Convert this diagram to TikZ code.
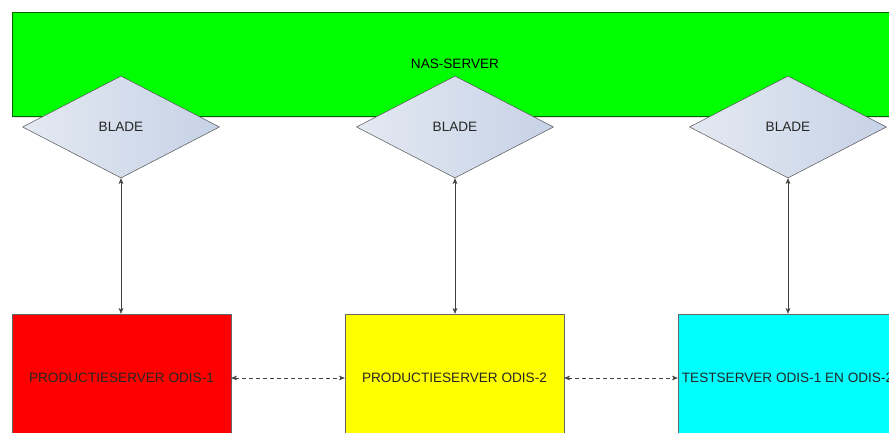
\documentclass[tikz,border=0pt]{standalone}
\usepackage{fontspec}
\setmainfont{Liberation Sans}
\usetikzlibrary{shapes.geometric, arrows.meta, shadows}
\definecolor{nasgreen}{HTML}{00FF00}
\definecolor{srvcyan}{HTML}{00FFFF}
\definecolor{srvred}{HTML}{FF0000}
\definecolor{srvyellow}{HTML}{FFFF00}
\definecolor{bladetop}{HTML}{E4E9F2}
\definecolor{bladebot}{HTML}{C6D2E6}
\tikzset{ nas/.style = { rectangle
                       , draw = green!40!black
                       , fill = nasgreen
                       , minimum width  = 26.58cm
                       , minimum height = 3.12cm
                       , drop shadow = {opacity=0.2, shadow xshift=0pt, shadow yshift=-2pt}
                       },
          blade/.style = { diamond
                         , draw = black!70
                         , left color = bladetop
                         , right color = bladebot
                         , inner sep = 0pt
                         , minimum width  = 5.91cm
                         , minimum height = 3.06cm
                         , text = black!85
                         },
          srv/.style = { rectangle
                       , draw = black!60
                       , minimum width  = 6.57cm
                       , minimum height = 3.84cm
                       , text = black!85
                       },
          link/.style = { {Stealth[length=5pt,width=4pt]}-{Stealth[length=5pt,width=4pt]}
                        , draw = black!75
                        , thin
                        }
        }

\begin{document}
\begin{tikzpicture}[x=0.03cm, y=-0.03cm, font=\fontsize{11.6}{13}\selectfont]
    \useasboundingbox (0,0) rectangle (889,433);
    \clip (0,0) rectangle (889,433);
    \fill[white] (0,0) rectangle (889,433);
    % storage
    \node[nas] (nas) at (455,64) {NAS-SERVER};
    % blades
    \node[blade] (b1) at (121,127) {BLADE};
    \node[blade] (b2) at (455,127) {BLADE};
    \node[blade] (b3) at (788,127) {BLADE};
    % servers
    \node[srv, fill=srvred]    (p1) at (121.5,378) {PRODUCTIESERVER ODIS-1};
    \node[srv, fill=srvyellow] (p2) at (454.5,378) {PRODUCTIESERVER ODIS-2};
    \node[srv, fill=srvcyan]   (t1) at (787.5,378) {TESTSERVER ODIS-1 EN ODIS-2};
    % connections
    \draw[link] (b1.south) -- (b1.south |- p1.north);
    \draw[link] (b2.south) -- (b2.south |- p2.north);
    \draw[link] (b3.south) -- (b3.south |- t1.north);
    \draw[link, dashed] (p1.east) -- (p2.west);
    \draw[link, dashed] (p2.east) -- (t1.west);
\end{tikzpicture}
\end{document}
